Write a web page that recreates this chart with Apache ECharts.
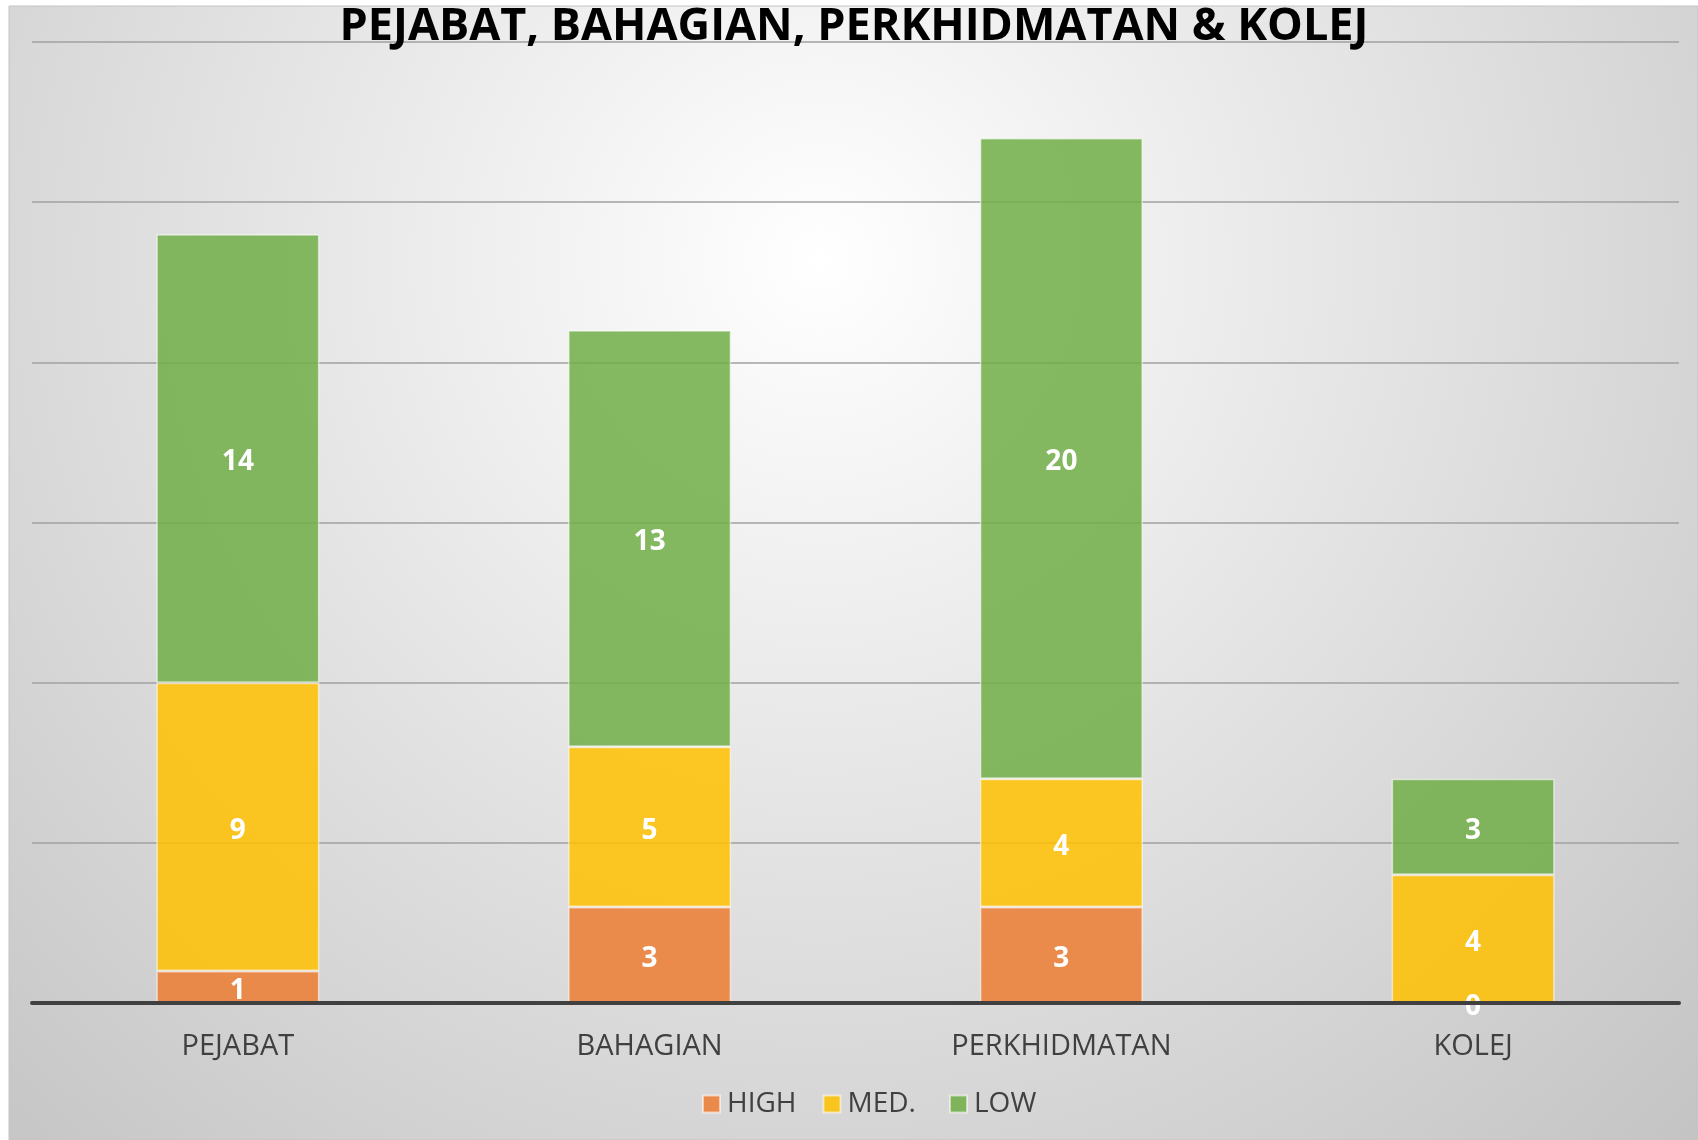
<!DOCTYPE html>
<html>
<head>
<meta charset="utf-8">
<script src="https://cdn.jsdelivr.net/npm/echarts@6/dist/echarts.min.js"></script>
<style>
html,body{margin:0;padding:0;background:#ffffff;}
#chart{width:1698px;height:1140px;}
</style>
</head>
<body>
<div id="chart"></div>
<script>
var titleText = 'PEJABAT, BAHAGIAN, PERKHIDMATAN & KOLEJ';
var categories = ['PEJABAT', 'BAHAGIAN', 'PERKHIDMATAN', 'KOLEJ'];
var seriesNames = ['HIGH', 'MED.', 'LOW'];
var highValues = [1, 3, 3, 0];
var medValues = [9, 5, 4, 4];
var lowValues = [14, 13, 20, 3];
var yMin = 0, yMax = 30, yStep = 5;

var colors = ['rgba(237,125,49,0.85)', 'rgba(255,192,0,0.85)', 'rgba(112,173,71,0.85)'];
var seriesData = [highValues, medValues, lowValues];

var chart = echarts.init(document.getElementById('chart'), null, {renderer: 'canvas'});

var series = seriesNames.map(function (name, i) {
  return {
    name: name,
    type: 'bar',
    stack: 'total',
    barWidth: 163,
    data: seriesData[i],
    itemStyle: {
      color: colors[i],
      borderColor: 'rgba(255,255,255,0.55)',
      borderWidth: 1.5
    },
    label: {
      show: true,
      position: 'inside',
      offset: [0, 4],
      color: '#ffffff',
      fontFamily: 'Open Sans',
      fontWeight: 'bold',
      fontSize: 28
    },
    emphasis: {disabled: true}
  };
});

function legendAt(names, left) {
  return {
    data: names,
    left: left,
    top: 1090,
    padding: 0,
    itemWidth: 17,
    itemHeight: 17,
    itemGap: 26,
    icon: 'rect',
    selectedMode: false,
    textStyle: {
      fontFamily: 'Open Sans',
      fontSize: 28,
      color: '#404040',
      padding: [0, 0, 0, 2]
    }
  };
}

chart.setOption({
  animation: false,
  backgroundColor: 'transparent',
  graphic: [{
    type: 'rect',
    z: -10,
    silent: true,
    shape: {x: 9, y: 6, width: 1689, height: 1134},
    style: {
      fill: {
        type: 'radial', x: 820, y: 260, r: 1300, global: true,
        colorStops: [{offset: 0, color: '#ffffff'}, {offset: 1, color: '#c1c1c1'}]
      },
      stroke: '#c4c4c4',
      lineWidth: 1
    }
  }],
  title: {
    text: titleText,
    left: 849,
    textAlign: 'center',
    top: 0,
    textStyle: {
      fontFamily: 'Open Sans',
      fontWeight: 'bold',
      fontSize: 45,
      color: '#000000'
    }
  },
  legend: [
    legendAt(seriesNames.slice(0, 2), 702),
    legendAt(seriesNames.slice(2), 949)
  ],
  grid: {left: 32, right: 19, top: 42, bottom: 137, containLabel: false},
  xAxis: {
    type: 'category',
    data: categories,
    axisLine: {show: true, lineStyle: {color: '#404040', width: 4}},
    axisTick: {show: false},
    axisLabel: {
      fontFamily: 'Open Sans',
      fontSize: 29,
      color: '#404040',
      margin: 29
    },
    z: 3
  },
  yAxis: {
    type: 'value',
    min: yMin,
    max: yMax,
    interval: yStep,
    axisLine: {show: false},
    axisTick: {show: false},
    axisLabel: {show: false},
    splitLine: {show: true, lineStyle: {color: '#a0a0a0', width: 1.5}}
  },
  series: series
});
</script>
</body>
</html>
